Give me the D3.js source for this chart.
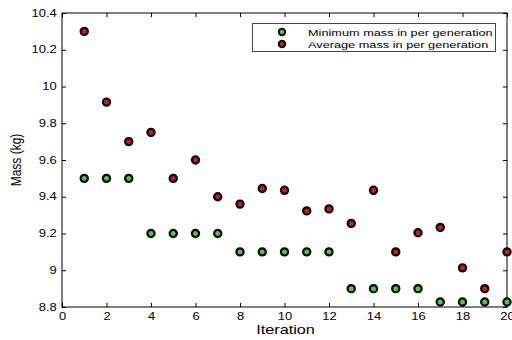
<!DOCTYPE html>
<html lang="en">
  <head>
    <meta charset="UTF-8" />
    <title>Mass per generation</title>
    <script src="https://d3js.org/d3.v7.min.js"></script>
    <style>
      body { margin: 0; background: #fff; }
      text { font-family: "Liberation Sans", Arial, sans-serif; }
    </style>
  </head>
  <body>
    <div id="chart"></div>
  </body>
</html>

<script>
  const iterations = d3.range(1, 21)
  const minMass = [9.5, 9.5, 9.5, 9.2, 9.2, 9.2, 9.2, 9.1, 9.1, 9.1,
                   9.1, 9.1, 8.9, 8.9, 8.9, 8.9, 8.827, 8.827, 8.827, 8.827]
  const avgMass = [10.3, 9.915, 9.7, 9.75, 9.5, 9.6, 9.4, 9.36, 9.445, 9.435,
                   9.323, 9.334, 9.255, 9.435, 9.1, 9.204, 9.233, 9.013, 8.9, 9.1]
  const xTicks = [0, 2, 4, 6, 8, 10, 12, 14, 16, 18, 20]
  const yTicks = [8.8, 9, 9.2, 9.4, 9.6, 9.8, 10, 10.2, 10.4]
  const seriesNames = ["Minimum mass in per generation", "Average mass in per generation"]
  const seriesColors = ["#3fd23a", "#d8141c"]

  const W = 512, H = 340
  const m = { left: 62, right: 5, top: 13, bottom: 33 }
  const stretch = 1.3 // the original text looks widened horizontally

  const svg = d3.select("#chart").append("svg")
    .attr("width", W).attr("height", H)

  const x = d3.scaleLinear().domain([0, 20]).range([m.left, W - m.right])
  const y = d3.scaleLinear().domain([8.8, 10.4]).range([H - m.bottom, m.top])

  // frame
  svg.append("rect")
    .attr("x", x(0)).attr("y", y(10.4))
    .attr("width", x(20) - x(0)).attr("height", y(8.8) - y(10.4))
    .attr("fill", "none").attr("stroke", "#000").attr("stroke-width", 1)

  const fmt = d => String(+d.toFixed(1))

  // bottom + left axes, ticks pointing inward
  const xb = svg.append("g").attr("transform", `translate(0,${y(8.8)})`)
    .call(d3.axisBottom(x).tickValues(xTicks).tickSize(-4).tickPadding(6).tickFormat(fmt))
  const yl = svg.append("g").attr("transform", `translate(${x(0)},0)`)
    .call(d3.axisLeft(y).tickValues(yTicks).tickSize(-4).tickPadding(4).tickFormat(fmt))
  // top + right ticks only
  const xt = svg.append("g").attr("transform", `translate(0,${y(10.4)})`)
    .call(d3.axisTop(x).tickValues(xTicks).tickSize(-4).tickFormat(""))
  const yr = svg.append("g").attr("transform", `translate(${x(20)},0)`)
    .call(d3.axisRight(y).tickValues(yTicks).tickSize(-4).tickFormat(""))

  ;[xb, yl, xt, yr].forEach(g => {
    g.select(".domain").remove()
    g.selectAll("line").attr("stroke", "#000")
    g.selectAll("text").attr("fill", "#000").style("font-size", "10px")
      .attr("transform", `scale(${stretch},1)`)
  })

  // axis titles
  svg.append("text")
    .attr("transform", `translate(${(x(0) + x(20)) / 2 + 1},334) scale(1.25,1)`)
    .attr("text-anchor", "middle").style("font-size", "13px")
    .text("Iteration")
  svg.append("text")
    .attr("transform", `translate(21,${(y(8.8) + y(10.4)) / 2}) rotate(-90) scale(1,1.2)`)
    .attr("text-anchor", "middle").style("font-size", "12px")
    .text("Mass (kg)")

  // markers
  const series = [minMass, avgMass]
  series.forEach((vals, s) => {
    svg.append("g").selectAll("circle")
      .data(vals.map((v, i) => ({ it: iterations[i], v })))
      .enter().append("circle")
      .attr("cx", d => x(d.it)).attr("cy", d => y(d.v))
      .attr("r", 3.6)
      .attr("fill", seriesColors[s])
      .attr("stroke", "#000").attr("stroke-width", 2.2)
  })

  // legend
  const lg = svg.append("g")
  lg.append("rect")
    .attr("x", 252.5).attr("y", 23.5).attr("width", 243).attr("height", 28)
    .attr("fill", "#fff").attr("stroke", "#444").attr("stroke-width", 1)
  seriesNames.forEach((name, i) => {
    const cy = 32 + i * 12
    lg.append("circle").attr("cx", 282).attr("cy", cy).attr("r", 3.2)
      .attr("fill", seriesColors[i]).attr("stroke", "#000").attr("stroke-width", 2)
    lg.append("text")
      .attr("transform", `translate(308,${cy + 3.5}) scale(${stretch},1)`)
      .style("font-size", "9.8px").text(name)
  })
</script>
